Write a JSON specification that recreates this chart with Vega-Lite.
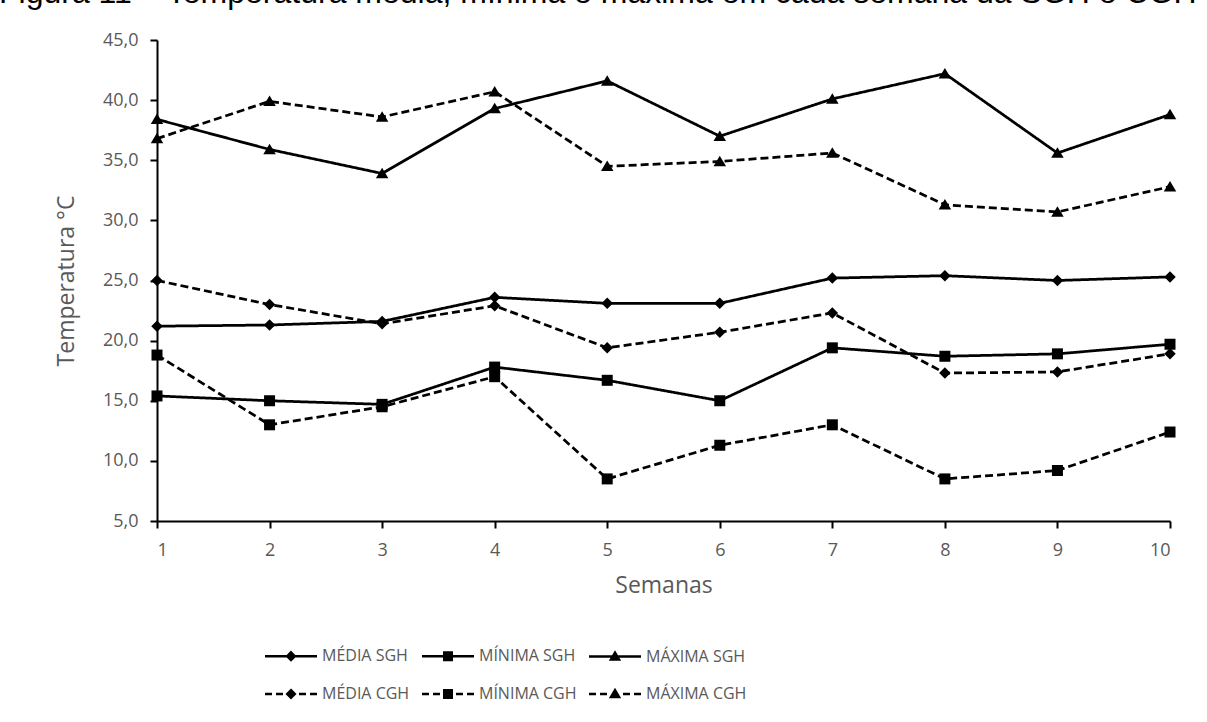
{
  "$schema": "https://vega.github.io/schema/vega-lite/v6.json",
  "width": 1013,
  "height": 481,
  "autosize": {"type": "none"},
  "padding": {"left": 157, "top": 40, "right": 37, "bottom": 201},
  "background": "white",
  "title": {
    "text": "Figura 11 – Temperatura média, mínima e máxima em cada semana da SGH e CGH",
    "anchor": "start",
    "frame": "group",
    "baseline": "alphabetic",
    "offset": 24,
    "dy": 28,
    "dx": -158,
    "font": "Liberation Sans",
    "fontSize": 32,
    "fontWeight": "normal",
    "color": "black"
  },
  "data": {
    "values": [
      {"semana": 1, "serie": "MÉDIA SGH", "temp": 21.2},
      {"semana": 2, "serie": "MÉDIA SGH", "temp": 21.3},
      {"semana": 3, "serie": "MÉDIA SGH", "temp": 21.6},
      {"semana": 4, "serie": "MÉDIA SGH", "temp": 23.6},
      {"semana": 5, "serie": "MÉDIA SGH", "temp": 23.1},
      {"semana": 6, "serie": "MÉDIA SGH", "temp": 23.1},
      {"semana": 7, "serie": "MÉDIA SGH", "temp": 25.2},
      {"semana": 8, "serie": "MÉDIA SGH", "temp": 25.4},
      {"semana": 9, "serie": "MÉDIA SGH", "temp": 25.0},
      {"semana": 10, "serie": "MÉDIA SGH", "temp": 25.3},
      {"semana": 1, "serie": "MÍNIMA SGH", "temp": 15.4},
      {"semana": 2, "serie": "MÍNIMA SGH", "temp": 15.0},
      {"semana": 3, "serie": "MÍNIMA SGH", "temp": 14.7},
      {"semana": 4, "serie": "MÍNIMA SGH", "temp": 17.8},
      {"semana": 5, "serie": "MÍNIMA SGH", "temp": 16.7},
      {"semana": 6, "serie": "MÍNIMA SGH", "temp": 15.0},
      {"semana": 7, "serie": "MÍNIMA SGH", "temp": 19.4},
      {"semana": 8, "serie": "MÍNIMA SGH", "temp": 18.7},
      {"semana": 9, "serie": "MÍNIMA SGH", "temp": 18.9},
      {"semana": 10, "serie": "MÍNIMA SGH", "temp": 19.7},
      {"semana": 1, "serie": "MÁXIMA SGH", "temp": 38.4},
      {"semana": 2, "serie": "MÁXIMA SGH", "temp": 35.9},
      {"semana": 3, "serie": "MÁXIMA SGH", "temp": 33.9},
      {"semana": 4, "serie": "MÁXIMA SGH", "temp": 39.3},
      {"semana": 5, "serie": "MÁXIMA SGH", "temp": 41.6},
      {"semana": 6, "serie": "MÁXIMA SGH", "temp": 37.0},
      {"semana": 7, "serie": "MÁXIMA SGH", "temp": 40.1},
      {"semana": 8, "serie": "MÁXIMA SGH", "temp": 42.2},
      {"semana": 9, "serie": "MÁXIMA SGH", "temp": 35.6},
      {"semana": 10, "serie": "MÁXIMA SGH", "temp": 38.8},
      {"semana": 1, "serie": "MÉDIA CGH", "temp": 25.0},
      {"semana": 2, "serie": "MÉDIA CGH", "temp": 23.0},
      {"semana": 3, "serie": "MÉDIA CGH", "temp": 21.4},
      {"semana": 4, "serie": "MÉDIA CGH", "temp": 22.9},
      {"semana": 5, "serie": "MÉDIA CGH", "temp": 19.4},
      {"semana": 6, "serie": "MÉDIA CGH", "temp": 20.7},
      {"semana": 7, "serie": "MÉDIA CGH", "temp": 22.3},
      {"semana": 8, "serie": "MÉDIA CGH", "temp": 17.3},
      {"semana": 9, "serie": "MÉDIA CGH", "temp": 17.4},
      {"semana": 10, "serie": "MÉDIA CGH", "temp": 18.9},
      {"semana": 1, "serie": "MÍNIMA CGH", "temp": 18.8},
      {"semana": 2, "serie": "MÍNIMA CGH", "temp": 13.0},
      {"semana": 3, "serie": "MÍNIMA CGH", "temp": 14.5},
      {"semana": 4, "serie": "MÍNIMA CGH", "temp": 17.0},
      {"semana": 5, "serie": "MÍNIMA CGH", "temp": 8.5},
      {"semana": 6, "serie": "MÍNIMA CGH", "temp": 11.3},
      {"semana": 7, "serie": "MÍNIMA CGH", "temp": 13.0},
      {"semana": 8, "serie": "MÍNIMA CGH", "temp": 8.5},
      {"semana": 9, "serie": "MÍNIMA CGH", "temp": 9.2},
      {"semana": 10, "serie": "MÍNIMA CGH", "temp": 12.4},
      {"semana": 1, "serie": "MÁXIMA CGH", "temp": 36.8},
      {"semana": 2, "serie": "MÁXIMA CGH", "temp": 39.9},
      {"semana": 3, "serie": "MÁXIMA CGH", "temp": 38.6},
      {"semana": 4, "serie": "MÁXIMA CGH", "temp": 40.7},
      {"semana": 5, "serie": "MÁXIMA CGH", "temp": 34.5},
      {"semana": 6, "serie": "MÁXIMA CGH", "temp": 34.9},
      {"semana": 7, "serie": "MÁXIMA CGH", "temp": 35.6},
      {"semana": 8, "serie": "MÁXIMA CGH", "temp": 31.3},
      {"semana": 9, "serie": "MÁXIMA CGH", "temp": 30.7},
      {"semana": 10, "serie": "MÁXIMA CGH", "temp": 32.8}
    ]
  },
  "encoding": {
    "x": {
      "field": "semana",
      "type": "quantitative",
      "scale": {"domain": [1, 10], "nice": false, "zero": false},
      "axis": {
        "title": "Semanas",
        "values": [1, 2, 3, 4, 5, 6, 7, 8, 9, 10],
        "format": "d",
        "labelPadding": 13,
        "titlePadding": 15
      }
    },
    "y": {
      "field": "temp",
      "type": "quantitative",
      "scale": {"domain": [5, 45], "nice": false, "zero": false},
      "axis": {
        "title": "Temperatura °C",
        "values": [5, 10, 15, 20, 25, 30, 35, 40, 45],
        "labelExpr": "replace(format(datum.value, '.1f'), '.', ',')",
        "labelPadding": 12,
        "titlePadding": 24
      }
    }
  },
  "layer": [
    {
      "mark": {"type": "line", "stroke": "black", "strokeWidth": 2.75, "strokeJoin": "round"},
      "encoding": {
        "detail": {"field": "serie", "type": "nominal"},
        "strokeDash": {
          "field": "serie",
          "type": "nominal",
          "scale": {
            "domain": ["MÉDIA SGH", "MÍNIMA SGH", "MÁXIMA SGH", "MÉDIA CGH", "MÍNIMA CGH", "MÁXIMA CGH"],
            "range": [[1, 0], [1, 0], [1, 0], [8, 4], [8, 4], [8, 4]]
          },
          "legend": null
        }
      }
    },
    {
      "mark": {"type": "point", "filled": true, "color": "black", "opacity": 1, "size": 100, "strokeWidth": 0},
      "encoding": {
        "shape": {
          "field": "serie",
          "type": "nominal",
          "scale": {
            "domain": ["MÉDIA SGH", "MÍNIMA SGH", "MÁXIMA SGH", "MÉDIA CGH", "MÍNIMA CGH", "MÁXIMA CGH"],
            "range": ["M0,-1.15L1.15,0L0,1.15L-1.15,0Z", "M-1.1,-1.1L1.1,-1.1L1.1,1.1L-1.1,1.1Z", "M0,-1.15L1.25,0.95L-1.25,0.95Z", "M0,-1.15L1.15,0L0,1.15L-1.15,0Z", "M-1.1,-1.1L1.1,-1.1L1.1,1.1L-1.1,1.1Z", "M0,-1.15L1.25,0.95L-1.25,0.95Z"]
          },
          "legend": null
        }
      }
    },
    {
      "transform": [{"filter": "false"}],
      "mark": {"type": "point", "filled": false, "color": "black", "stroke": "black", "strokeWidth": 2.5, "opacity": 1, "size": 100},
      "encoding": {
        "shape": {
          "field": "serie",
          "type": "nominal",
          "scale": {
            "domain": ["MÉDIA SGH", "MÍNIMA SGH", "MÁXIMA SGH", "MÉDIA CGH", "MÍNIMA CGH", "MÁXIMA CGH"],
            "range": [
              "M-5.2,0L5.2,0M0,-0.75L0.75,0L0,0.75L-0.75,0ZM0,-0.3L0.3,0L0,0.3L-0.3,0Z",
              "M-5.2,0L5.2,0M-0.75,-0.75L0.75,-0.75L0.75,0.75L-0.75,0.75ZM-0.25,-0.25L0.25,-0.25L0.25,0.25L-0.25,0.25Z",
              "M-5.2,0L5.2,0M0,-0.75L0.8,0.6L-0.8,0.6ZM0,0.05L0.2,0.35L-0.2,0.35Z",
              "M-5.2,0L-3.8,0M-3.0,0L-1.6,0M1.6,0L3.0,0M3.8,0L5.2,0M0,-0.75L0.75,0L0,0.75L-0.75,0ZM0,-0.3L0.3,0L0,0.3L-0.3,0Z",
              "M-5.2,0L-3.8,0M-3.0,0L-1.6,0M1.6,0L3.0,0M3.8,0L5.2,0M-0.75,-0.75L0.75,-0.75L0.75,0.75L-0.75,0.75ZM-0.25,-0.25L0.25,-0.25L0.25,0.25L-0.25,0.25Z",
              "M-5.2,0L-3.8,0M-3.0,0L-1.6,0M1.6,0L3.0,0M3.8,0L5.2,0M0,-0.75L0.8,0.6L-0.8,0.6ZM0,0.05L0.2,0.35L-0.2,0.35Z"
            ]
          },
          "legend": {
            "orient": "none",
            "legendX": 126,
            "legendY": 608,
            "direction": "horizontal",
            "columns": 3,
            "title": null,
            "symbolSize": 100,
            "symbolStrokeWidth": 2.5,
            "symbolStrokeColor": "black",
            "symbolOpacity": 1,
            "labelOffset": 23,
            "columnPadding": 7,
            "rowPadding": 20
          }
        }
      }
    }
  ],
  "resolve": {"scale": {"shape": "independent"}},
  "config": {
    "view": {"stroke": null},
    "axis": {
      "grid": false,
      "domainColor": "black",
      "domainWidth": 2,
      "tickColor": "black",
      "tickWidth": 2,
      "tickSize": 7,
      "labelColor": "#595959",
      "labelFont": "Open Sans",
      "labelFontSize": 18,
      "titleColor": "#595959",
      "titleFont": "Open Sans",
      "titleFontSize": 23,
      "titleFontWeight": "normal"
    },
    "legend": {
      "labelColor": "#595959",
      "labelFont": "Open Sans",
      "labelFontSize": 16
    }
  }
}
